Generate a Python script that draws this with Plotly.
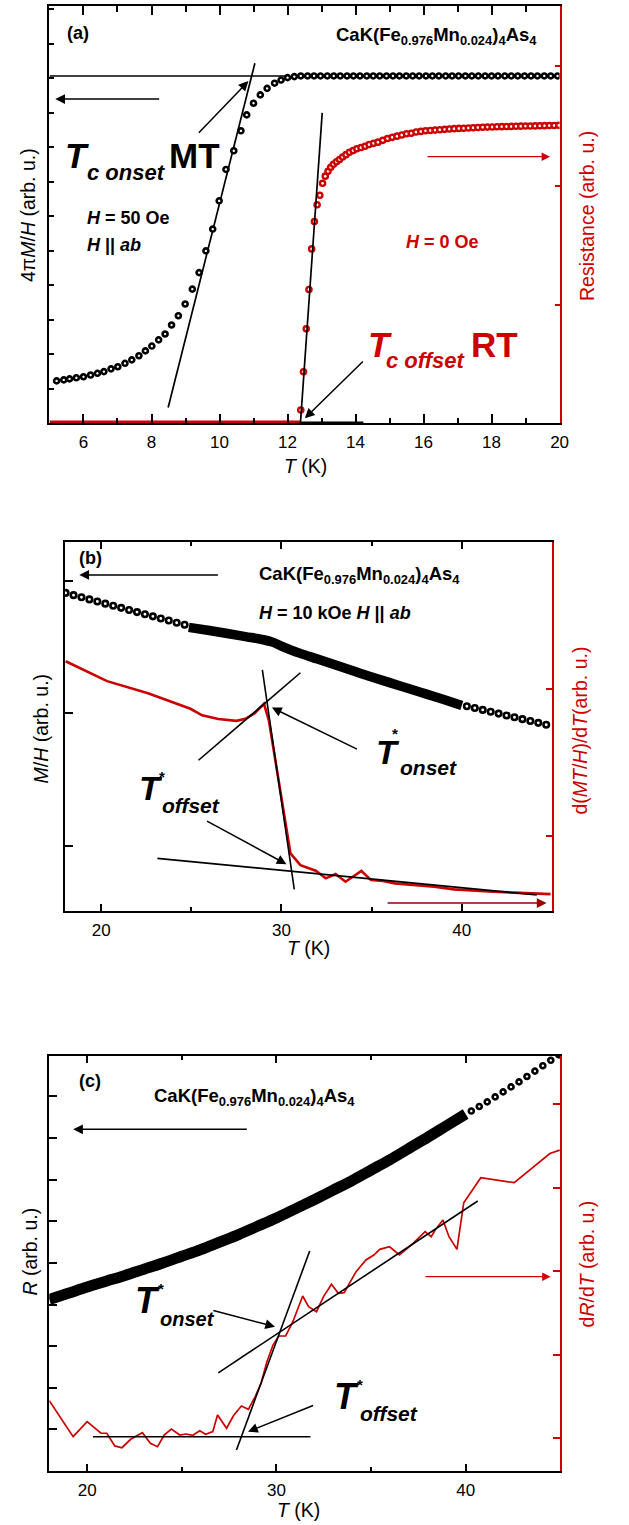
import plotly.graph_objects as go

W, H = 629, 1525
RED = '#cc0000'
DARKRED = '#990000'
FONT = 'Liberation Sans, Arial, sans-serif'

# ---------------- Panel (a) data ----------------
MT_A_T = [5.21, 5.42, 5.59, 5.79, 6.00, 6.21, 6.41, 6.60, 6.81, 7.01, 7.22, 7.42, 7.63, 7.82,
          8.01, 8.21, 8.40, 8.59, 8.79, 8.99, 9.20, 9.40, 9.60, 9.80, 9.99, 10.19, 10.42,
          10.63, 10.80, 11.00, 11.20, 11.40, 11.62, 11.81, 12.00, 12.20,
          12.39, 12.59, 12.78, 12.97, 13.17, 13.36, 13.55, 13.75, 13.94, 14.13, 14.33, 14.52,
          14.71, 14.91, 15.10, 15.29, 15.49, 15.68, 15.87, 16.07, 16.26, 16.45, 16.65, 16.84,
          17.03, 17.23, 17.42, 17.61, 17.81, 18.00, 18.19, 18.39, 18.58, 18.77, 18.97, 19.16,
          19.35, 19.55, 19.74, 19.94]
MT_A_V = [1.22, 1.25, 1.28, 1.31, 1.34, 1.39, 1.44, 1.49, 1.57, 1.63, 1.73, 1.83, 1.95, 2.09,
          2.23, 2.41, 2.58, 2.84, 3.11, 3.45, 3.88, 4.36, 4.99, 5.62, 6.44, 7.35, 7.89,
          8.47, 8.93, 9.27, 9.51, 9.70, 9.85, 9.94, 10.01, 10.04,
          10.06, 10.06, 10.06, 10.06, 10.06, 10.06, 10.06, 10.06, 10.06, 10.06, 10.06, 10.06,
          10.06, 10.06, 10.06, 10.06, 10.06, 10.06, 10.06, 10.06, 10.06, 10.06, 10.06, 10.06,
          10.06, 10.06, 10.06, 10.06, 10.06, 10.06, 10.06, 10.06, 10.06, 10.06, 10.06, 10.06,
          10.06, 10.06, 10.06, 10.06]
RES_A_T = [12.39, 12.47, 12.55, 12.63, 12.71, 12.79, 12.87, 12.95, 13.03, 13.11, 13.19, 13.27,
           13.35, 13.44, 13.53, 13.62, 13.72, 13.82, 13.93, 14.04, 14.16, 14.28, 14.40, 14.53,
           14.66, 14.80, 14.94, 15.08, 15.22, 15.36, 15.50, 15.64, 15.78, 15.92, 16.06, 16.20,
           16.34, 16.48, 16.62, 16.76, 16.90, 17.04, 17.18, 17.32, 17.46, 17.60, 17.74, 17.88,
           18.02, 18.16, 18.30, 18.44, 18.58, 18.72, 18.86, 19.00, 19.14, 19.28, 19.42, 19.56,
           19.70, 19.84, 19.98]
RES_A_V = [0.12, 0.44, 0.80, 1.13, 1.47, 1.70, 1.84, 1.92, 2.02, 2.08, 2.12, 2.155,
           2.18, 2.20, 2.22, 2.24, 2.26, 2.28, 2.295, 2.31, 2.32, 2.33, 2.345, 2.355,
           2.365, 2.38, 2.395, 2.405, 2.415, 2.425, 2.435, 2.44, 2.45, 2.455, 2.46, 2.463,
           2.466, 2.469, 2.472, 2.475, 2.478, 2.48, 2.482, 2.484, 2.486, 2.488, 2.49, 2.491,
           2.492, 2.494, 2.495, 2.496, 2.497, 2.498, 2.499, 2.50, 2.50, 2.501, 2.502, 2.503,
           2.504, 2.505, 2.506]
RES_A_ZERO_T = [5.0, 12.39]
RES_A_ZERO_V = [0.02, 0.02]
# guide lines (a)
FIT_A_MT_T = [8.49, 11.04]
FIT_A_MT_V = [0.45, 10.43]
HL_A_MT_T = [5.0, 11.98]
HL_A_MT_V = [10.06, 10.06]
FIT_A_R_T = [12.37, 13.02]
FIT_A_R_V = [-0.03, 2.61]
ZERO_A_R_T = [12.39, 14.23]
ZERO_A_R_V = [0.01, 0.01]

# ---------------- Panel (b) data ----------------
MT_B_T1 = [18.03, 18.47, 18.91, 19.35, 19.79, 20.23, 20.67, 21.11, 21.55, 21.99, 22.43, 22.87,
           23.31, 23.75, 24.19, 24.63]
MT_B_V1 = [2.91, 2.893, 2.877, 2.861, 2.845, 2.829, 2.813, 2.797, 2.781, 2.765, 2.749, 2.733,
           2.717, 2.701, 2.685, 2.669]
MT_B_TD = [24.86, 26.0, 27.0, 28.0, 29.0, 29.5, 30.0, 30.5, 31.0, 32.0, 33.0, 34.0, 35.0, 36.0,
           37.0, 38.0, 39.0, 40.0]
MT_B_VD = [2.65, 2.626, 2.603, 2.58, 2.556, 2.538, 2.508, 2.48, 2.455, 2.41, 2.365, 2.32, 2.275,
           2.232, 2.19, 2.147, 2.104, 2.06]
MT_B_T2 = [40.28, 40.72, 41.16, 41.60, 42.04, 42.48, 42.92, 43.36, 43.80, 44.24, 44.68]
MT_B_V2 = [2.054, 2.04, 2.026, 2.012, 1.998, 1.984, 1.97, 1.956, 1.942, 1.928, 1.914]
DER_B_T = [18.03, 20.33, 22.6, 24.95, 25.6, 26.5, 27.5, 28.0, 28.5, 29.03, 29.3, 29.57, 30.0,
           30.5, 31.05, 31.9, 32.46, 33.0, 33.55, 33.98, 34.43, 34.97, 35.63, 36.29, 37.38,
           38.47, 39.56, 41.75, 44.92]
DER_B_V = [2.187, 2.052, 1.970, 1.864, 1.819, 1.795, 1.782, 1.796, 1.832, 1.898, 1.785, 1.581,
           1.242, 0.881, 0.801, 0.763, 0.711, 0.740, 0.688, 0.722, 0.761, 0.699, 0.693, 0.677,
           0.666, 0.654, 0.636, 0.620, 0.604]
FIT_B_STEEP_T = [28.94, 30.71]
FIT_B_STEEP_V = [2.129, 0.636]
FIT_B_ON_T = [25.4, 31.05]
FIT_B_ON_V = [1.514, 2.109]
FIT_B_FLAT_T = [23.12, 44.16]
FIT_B_FLAT_V = [0.847, 0.598]

# ---------------- Panel (c) data ----------------
R_C_TD = [18.0, 19.0, 20.0, 21.0, 22.0, 23.0, 24.0, 25.0, 26.0, 27.0, 28.0, 29.0, 30.0, 31.0,
          32.0, 33.0, 34.0, 35.0, 36.0, 37.0, 38.0, 39.0, 40.0]
R_C_VD = [4.12, 4.27, 4.42, 4.56, 4.70, 4.85, 5.00, 5.16, 5.32, 5.50, 5.68, 5.88, 6.08, 6.30,
          6.52, 6.75, 6.98, 7.23, 7.48, 7.75, 8.02, 8.30, 8.58]
R_C_T2 = [40.30, 40.72, 41.14, 41.56, 41.98, 42.40, 42.82, 43.24, 43.66, 44.08, 44.50, 44.92]
R_C_V2 = [8.65, 8.76, 8.87, 8.99, 9.11, 9.23, 9.35, 9.48, 9.61, 9.74, 9.87, 10.0]
DER_C_T = [18.0, 19.26, 20.0, 20.73, 21.04, 21.46, 21.84, 22.3, 22.92, 23.34, 23.72, 24.07,
           24.45, 24.9, 25.22, 25.58, 25.95, 26.26, 26.64, 26.89, 27.37, 27.73, 28.15, 28.52,
           28.88, 29.19, 29.5, 29.82, 30.13, 30.49, 30.87, 31.39, 31.70, 32.12, 32.49, 32.91,
           33.27, 33.58, 34.21, 34.73, 35.15, 35.46, 35.98, 36.5, 37.14, 37.86, 38.18, 38.39,
           38.8, 39.12, 39.54, 39.9, 40.8, 42.57, 44.45, 44.97]
DER_C_V = [1.449, 1.018, 1.198, 1.059, 1.059, 0.907, 0.886, 0.987, 1.066, 0.939, 0.898, 1.038,
           1.110, 1.038, 1.050, 1.035, 1.090, 1.047, 1.078, 1.278, 1.119, 1.269, 1.386, 1.346,
           1.497, 1.657, 1.916, 2.116, 2.224, 2.224, 2.395, 2.703, 2.575, 2.515, 2.695, 2.843,
           2.735, 2.743, 2.994, 3.134, 3.194, 3.262, 3.293, 3.194, 3.314, 3.473, 3.413, 3.493,
           3.613, 3.413, 3.262, 3.820, 4.12, 4.06, 4.41, 4.45]
FIT_C_FLAT_T = [20.31, 31.8]
FIT_C_FLAT_V = [1.018, 1.018]
FIT_C_STEEP_T = [27.89, 31.76]
FIT_C_STEEP_V = [0.859, 3.242]
FIT_C_ON_T = [26.93, 40.64]
FIT_C_ON_V = [1.783, 3.841]

# ---------------- helpers ----------------
def dx(l, r):
    return [l / W, r / W]

def dy(top, bottom):
    return [1 - bottom / H, 1 - top / H]

def px(x):
    return x / W

def py(y):
    return 1 - y / H

fig = go.Figure()

def line(xs, ys, xa, ya, color='black', width=1.6, shape='linear'):
    fig.add_trace(go.Scatter(x=xs, y=ys, xaxis=xa, yaxis=ya, mode='lines',
                             line=dict(color=color, width=width, shape=shape),
                             hoverinfo='skip', showlegend=False))

def circles(xs, ys, xa, ya, color='black', size=5, lw=2.5):
    fig.add_trace(go.Scatter(x=xs, y=ys, xaxis=xa, yaxis=ya, mode='markers',
                             marker=dict(symbol='circle', size=size, color='white',
                                         line=dict(color=color, width=lw)),
                             hoverinfo='skip', showlegend=False))

# panel (a)
line(RES_A_ZERO_T, RES_A_ZERO_V, 'x', 'y2', RED, 3)
line(HL_A_MT_T, HL_A_MT_V, 'x', 'y', 'black', 1.6)
line(FIT_A_MT_T, FIT_A_MT_V, 'x', 'y', 'black', 1.7)
circles(MT_A_T, MT_A_V, 'x', 'y', 'black', 5, 2.6)
circles(RES_A_T, RES_A_V, 'x', 'y2', RED, 5.2, 2.4)
line(FIT_A_R_T, FIT_A_R_V, 'x', 'y2', 'black', 1.7)
line(ZERO_A_R_T, ZERO_A_R_V, 'x', 'y2', 'black', 3)

# panel (b)
line(DER_B_T, DER_B_V, 'x2', 'y4', RED, 2.6)
line(MT_B_TD, MT_B_VD, 'x2', 'y3', 'black', 9.5, 'spline')
circles(MT_B_T1, MT_B_V1, 'x2', 'y3', 'black', 5.5, 2.6)
circles(MT_B_T2, MT_B_V2, 'x2', 'y3', 'black', 5.5, 2.6)
line(FIT_B_STEEP_T, FIT_B_STEEP_V, 'x2', 'y4', 'black', 1.6)
line(FIT_B_ON_T, FIT_B_ON_V, 'x2', 'y4', 'black', 1.6)
line(FIT_B_FLAT_T, FIT_B_FLAT_V, 'x2', 'y4', 'black', 1.6)

# panel (c)
line(R_C_TD, R_C_VD, 'x3', 'y5', 'black', 11, 'spline')
circles(R_C_T2, R_C_V2, 'x3', 'y5', 'black', 5, 2.6)
line(DER_C_T, DER_C_V, 'x3', 'y6', RED, 1.7)
line(FIT_C_FLAT_T, FIT_C_FLAT_V, 'x3', 'y6', 'black', 1.6)
line(FIT_C_STEEP_T, FIT_C_STEEP_V, 'x3', 'y6', 'black', 1.6)
line(FIT_C_ON_T, FIT_C_ON_V, 'x3', 'y6', 'black', 1.6)

# ---------------- axes ----------------
TICKFONT = dict(family=FONT, size=17, color='black')

def xaxis(domain, rng, anchor, dtick, tick0, mdtick, tl, mtl):
    return dict(domain=domain, range=rng, anchor=anchor, showline=True, linecolor='black',
                linewidth=2, mirror='ticks', ticks='inside', ticklen=tl, tickwidth=1.5,
                tickcolor='black', dtick=dtick, tick0=tick0,
                minor=dict(dtick=mdtick, tick0=tick0, ticks='inside', ticklen=mtl,
                           tickwidth=1.5, tickcolor='black'),
                showgrid=False, zeroline=False, tickfont=TICKFONT, ticklabelstandoff=3)

def yaxis(domain, rng, anchor, color, side, tickvals, tl, overlaying=None):
    d = dict(domain=domain, range=rng, anchor=anchor, showline=True, linecolor=color,
             linewidth=2, ticks='inside', ticklen=tl, tickwidth=1.5, tickcolor=color,
             tickvals=tickvals, showticklabels=False, showgrid=False, zeroline=False,
             side=side)
    if overlaying:
        d['overlaying'] = overlaying
    return d

XA = dx(50.2, 567.7)
YA = dy(6, 423)
XB = dx(66, 560)
YB = dy(541.7, 911)
XC = dx(50, 568.4)
YC = dy(1055.7, 1471)

fig.update_layout(
    width=W, height=H, margin=dict(l=0, r=0, t=0, b=0),
    paper_bgcolor='white', plot_bgcolor='white', showlegend=False,
    xaxis=xaxis(XA, [5, 20], 'y', 2, 0, 1, 9, 5.5),
    yaxis=yaxis(YA, [0, 12.087], 'x', 'black', 'left', list(range(0, 13)), 5),
    yaxis2=yaxis(YA, [0.011, 3.506], 'x', RED, 'right', [1, 2, 3], 5, 'y'),
    xaxis2=xaxis(XB, [18, 45], 'y3', 10, 0, 5, 7, 4),
    yaxis3=yaxis(YB, [0.5064, 3.297], 'x2', 'black', 'left', [1, 2, 3], 8),
    yaxis4=yaxis(YB, [0.489, 3.0], 'x2', RED, 'right', [1, 2, 3], 6, 'y3'),
    xaxis3=xaxis(XC, [18, 45], 'y5', 10, 0, 5, 7, 4),
    yaxis5=yaxis(YC, [0, 9.98], 'x3', 'black', 'left', list(range(0, 10)), 8),
    yaxis6=yaxis(YC, [0.607, 5.581], 'x3', RED, 'right', [1, 2, 3, 4, 5], 7, 'y5'),
)

# ---------------- text ----------------
ann = []

def text(x, y, s, size, color='black', bold=True, xanchor='left', yanchor='middle', angle=0):
    if bold:
        s = '<b>' + s + '</b>'
    ann.append(dict(x=px(x), y=py(y), xref='paper', yref='paper', text=s, showarrow=False,
                    xanchor=xanchor, yanchor=yanchor, textangle=angle,
                    font=dict(family=FONT, size=size, color=color)))

FORMULA = 'CaK(Fe<sub>0.976</sub>Mn<sub>0.024</sub>)<sub>4</sub>As<sub>4</sub>'

# panel (a)
text(66, 33, '(a)', 18)
text(339, 36, FORMULA, 18.5)
text(64, 155.5, '<i>T</i>', 35)
text(86, 172, '<i>c onset</i>', 22)
text(169, 155.5, 'MT', 35)
text(86, 218.3, '<i>H</i> = 50 Oe', 18)
text(86, 245, '<i>H</i> || <i>ab</i>', 18)
text(409.6, 241.7, '<i>H</i> = 0 Oe', 18, RED)
text(371.5, 344.2, '<i>T</i>', 35, RED)
text(389.6, 360.4, '<i>c offset</i>', 22, RED)
text(476, 344.2, 'RT', 35, RED)
text(310, 466, '<i>T</i> (K)', 19.5, bold=False, xanchor='center')
text(28, 215.5, '4π<i>M</i>/<i>H</i> (arb. u.)', 19.5, bold=False, xanchor='center', angle=-90)
text(595, 215.5, 'Resistance (arb. u.)', 19.5, RED, bold=False, xanchor='center', angle=-90)

# panel (b)
text(78, 558.3, '(b)', 18)
text(261, 575, FORMULA, 18.5)
text(261, 613.3, '<i>H</i> = 10 kOe <i>H</i> || <i>ab</i>', 18)
text(379.5, 751.7, '<i>T</i>', 34)
text(396, 733, '*', 15)
text(403.6, 767.4, '<i>onset</i>', 21)
text(138.6, 788.3, '<i>T</i>', 34)
text(159, 776, '*', 15)
text(162.6, 805, '<i>offset</i>', 21)
text(313, 948, '<i>T</i> (K)', 19.5, bold=False, xanchor='center')
text(42, 729, '<i>M</i>/<i>H</i> (arb. u.)', 19.5, bold=False, xanchor='center', angle=-90)
text(588, 731, 'd(<i>MT</i>/<i>H</i>)/d<i>T</i>(arb. u.)', 19.5, RED, bold=False,
     xanchor='center', angle=-90)

# panel (c)
text(78, 1080.5, '(c)', 18)
text(154.6, 1097, FORMULA, 18.5)
text(134.5, 1300, '<i>T</i>', 36)
text(158, 1288, '*', 15)
text(159.8, 1319.4, '<i>onset</i>', 20)
text(337.3, 1396, '<i>T</i>', 36)
text(360.5, 1384, '*', 15)
text(363.5, 1413.4, '<i>offset</i>', 21)
text(303, 1510, '<i>T</i> (K)', 19.5, bold=False, xanchor='center')
text(30, 1252, '<i>R</i> (arb. u.)', 19.5, bold=False, xanchor='center', angle=-90)
text(596, 1264, 'd<i>R</i>/d<i>T</i> (arb. u.)', 19.5, RED, bold=False, xanchor='center',
     angle=-90)

# ---------------- arrows (tail -> head, data coords) ----------------
ARROWS = [
    # (xref, yref, tail_x, tail_y, head_x, head_y, color, width)
    ('x', 'y', 8.27, 9.39, 5.17, 9.39, 'black', 1.5),
    ('x', 'y2', 16.07, 2.243, 19.72, 2.243, RED, 1.3),
    ('x', 'y', 9.35, 8.37, 10.85, 9.91, 'black', 1.5),
    ('x', 'y2', 14.26, 0.539, 12.51, 0.05, 'black', 1.5),
    ('x2', 'y3', 26.56, 3.046, 18.79, 3.046, 'black', 1.5),
    ('x2', 'y4', 34.27, 1.585, 29.47, 1.872, 'black', 1.5),
    ('x2', 'y4', 25.79, 1.106, 30.28, 0.807, 'black', 1.5),
    ('x2', 'y4', 35.8, 0.543, 44.7, 0.543, DARKRED, 1.5),
    ('x3', 'y5', 28.52, 8.21, 19.26, 8.21, 'black', 1.5),
    ('x3', 'y6', 37.8, 2.934, 44.49, 2.934, RED, 1.3),
    ('x3', 'y6', 26.59, 2.535, 29.93, 2.335, 'black', 1.5),
    ('x3', 'y6', 32.02, 1.398, 28.5, 1.078, 'black', 1.5),
]
for xr, yr, tx, ty, hx, hy, col, w in ARROWS:
    ann.append(dict(x=hx, y=hy, xref=xr, yref=yr, ax=tx, ay=ty, axref=xr, ayref=yr,
                    text='', showarrow=True, arrowhead=2, arrowsize=1.3, arrowwidth=w,
                    arrowcolor=col, standoff=0))

fig.update_layout(annotations=ann)
fig.write_html('out.html')
